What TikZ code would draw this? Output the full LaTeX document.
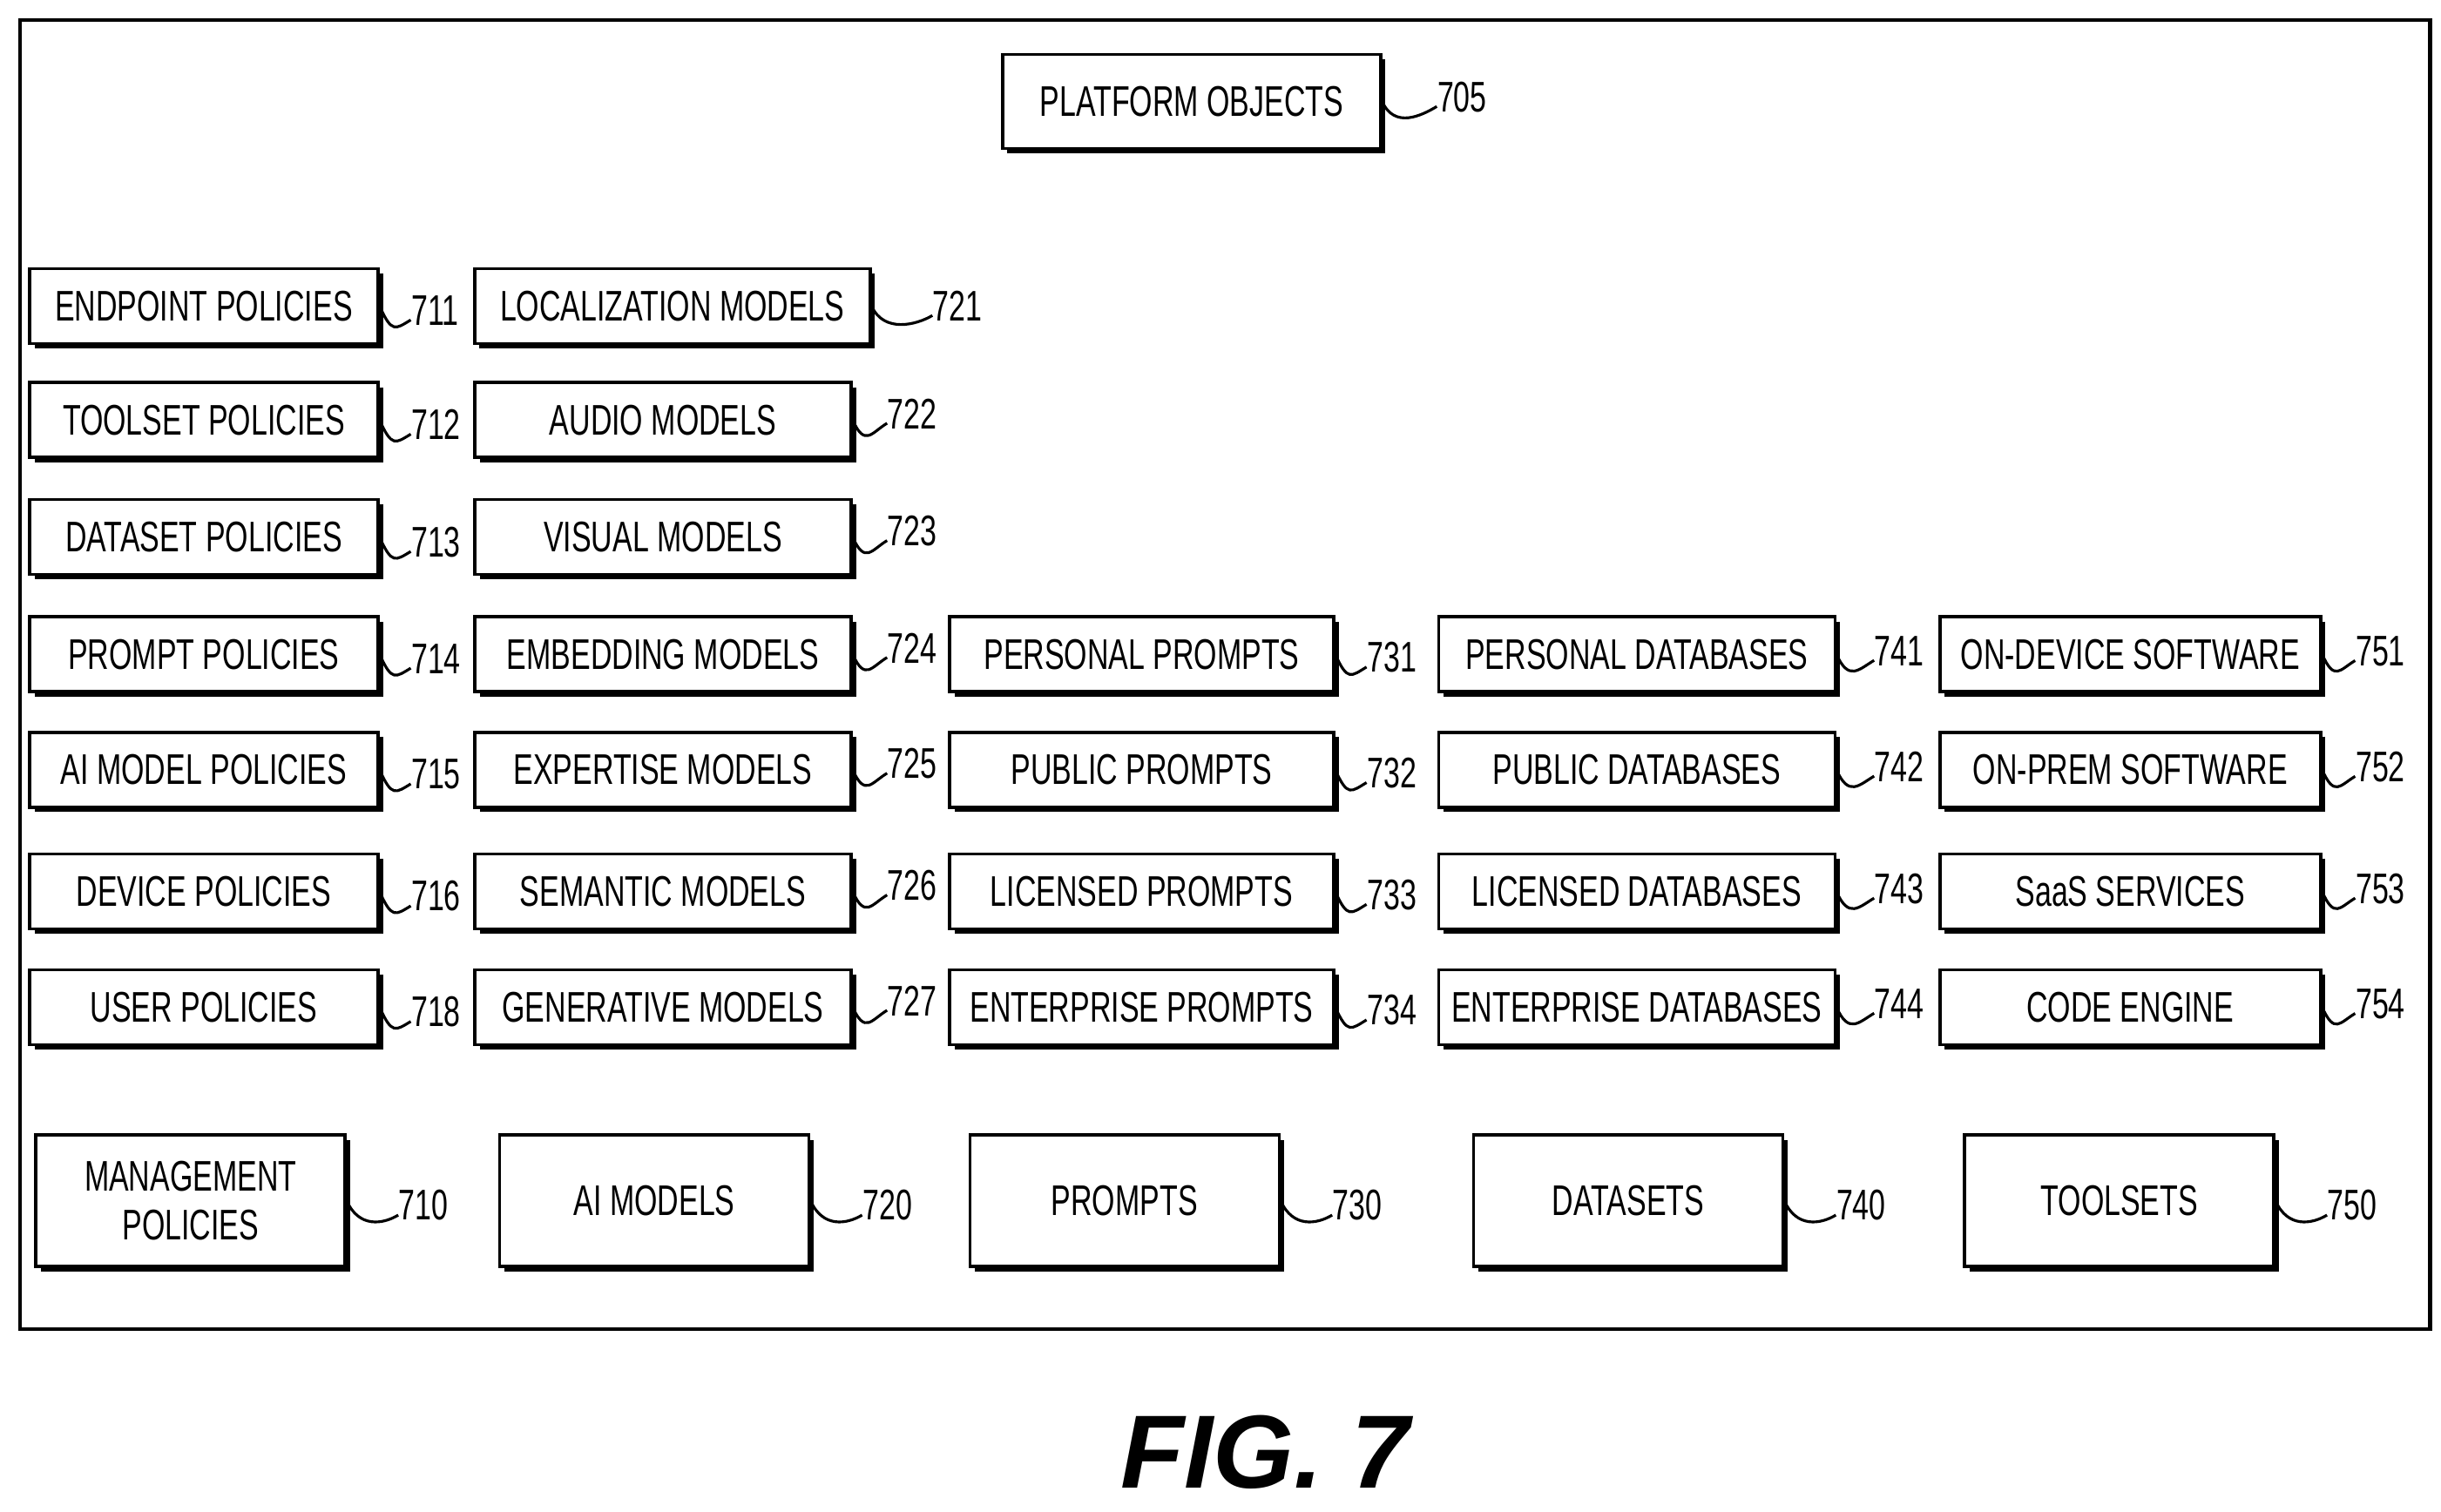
\documentclass[tikz,border=0pt]{standalone}
\usepackage{fontspec}
\setmainfont{Liberation Sans}[FakeStretch=0.69]
\newfontfamily\figfont{Liberation Sans}
\usetikzlibrary{shadows}
\tikzset{
    box/.style={draw, line width=1pt, fill=white, inner sep=1pt, align=center,
        font=\fontsize{14}{16}\selectfont,
        drop shadow={shadow xshift=1.6pt, shadow yshift=-1.6pt, fill=black, opacity=1}},
    small/.style={box, minimum height=0.86cm},
    big/.style={box, minimum height=1.51cm, minimum width=3.55cm},
    num/.style={anchor=west, inner sep=0pt, font=\fontsize{14}{16}\selectfont},
    lead/.style={line width=0.9pt},
}
\newcommand{\leadto}[2]{\draw[lead] (#1.east) .. controls +(4pt,-9pt) and +(-5pt,-3pt) .. ([yshift=2pt]#2.south west);}
\begin{document}
\begin{tikzpicture}[x=0.01793cm, y=-0.01793cm]
	\useasboundingbox (0,0) rectangle (1563,968);
	\draw[line width=1.2pt] (13,13) rectangle (1556,851);
	% top object
	\node[box, minimum width=4.34cm, minimum height=1.08cm] (b705) at (763,65) {PLATFORM OBJECTS};
	\node[num] (l705) at (920,62) {705};
	\leadto{b705}{l705}
	% policy column
	\foreach \n/\t/\y in {711/ENDPOINT POLICIES/196, 712/TOOLSET POLICIES/269,
		713/DATASET POLICIES/344, 714/PROMPT POLICIES/419, 715/AI MODEL POLICIES/493,
		716/DEVICE POLICIES/571, 718/USER POLICIES/645} {
		\node[small, minimum width=4.0cm] (b\n) at (130.5,\y) {\t};
		\node[num] (l\n) at (263,\y+3) {\n};
		\leadto{b\n}{l\n}
	}
	% model column
	\node[small, minimum width=4.54cm] (b721) at (430.5,196) {LOCALIZATION MODELS};
	\node[num] (l721) at (597,196) {721};
	\leadto{b721}{l721}
	\foreach \n/\t/\y in {722/AUDIO MODELS/269, 723/VISUAL MODELS/344,
		724/EMBEDDING MODELS/419, 725/EXPERTISE MODELS/493,
		726/SEMANTIC MODELS/571, 727/GENERATIVE MODELS/645} {
		\node[small, minimum width=4.32cm] (b\n) at (424.5,\y) {\t};
		\node[num] (l\n) at (568,\y-4) {\n};
		\leadto{b\n}{l\n}
	}
	% prompt column
	\foreach \n/\t/\y in {731/PERSONAL PROMPTS/419, 732/PUBLIC PROMPTS/493,
		733/LICENSED PROMPTS/571, 734/ENTERPRISE PROMPTS/645} {
		\node[small, minimum width=4.41cm] (b\n) at (731,\y) {\t};
		\node[num] (l\n) at (875,\y+2) {\n};
		\leadto{b\n}{l\n}
	}
	% database column
	\foreach \n/\t/\y in {741/PERSONAL DATABASES/419, 742/PUBLIC DATABASES/493,
		743/LICENSED DATABASES/571, 744/ENTERPRISE DATABASES/645} {
		\node[small, minimum width=4.55cm] (b\n) at (1048,\y) {\t};
		\node[num] (l\n) at (1200,\y-2) {\n};
		\leadto{b\n}{l\n}
	}
	% software column
	\foreach \n/\t/\y in {751/ON-DEVICE SOFTWARE/419, 752/ON-PREM SOFTWARE/493,
		753/SaaS SERVICES/571, 754/CODE ENGINE/645} {
		\node[small, minimum width=4.37cm] (b\n) at (1364,\y) {\t};
		\node[num] (l\n) at (1508,\y-2) {\n};
		\leadto{b\n}{l\n}
	}
	% bottom row
	\foreach \n/\t/\x in {710/MANAGEMENT\\POLICIES/122, 720/AI MODELS/419,
		730/PROMPTS/720, 740/DATASETS/1042.5, 750/TOOLSETS/1357} {
		\node[big] (b\n) at (\x,769) {\t};
		\node[num] (l\n) at (\x+133,772) {\n};
		\leadto{b\n}{l\n}
	}
	\node[font=\figfont\fontsize{34}{38}\selectfont\bfseries\itshape] (fig) at (810,930) {FIG. 7};
\end{tikzpicture}
\end{document}
